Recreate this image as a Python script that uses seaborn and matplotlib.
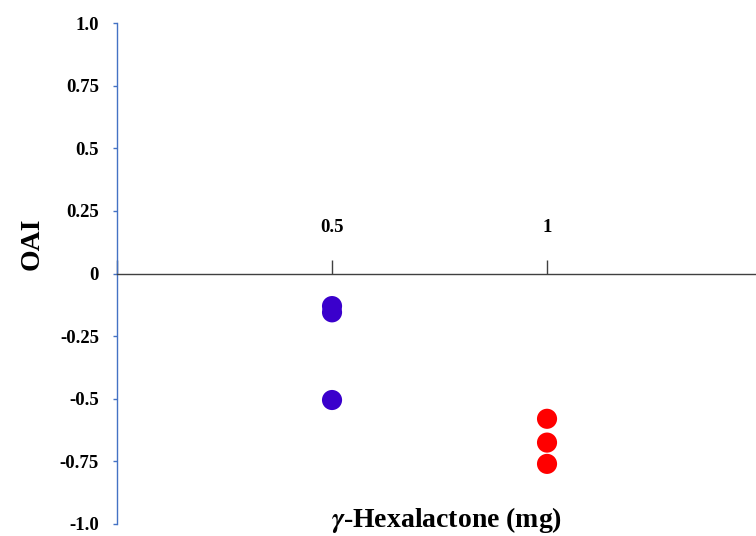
import matplotlib
matplotlib.use("Agg")
import matplotlib.pyplot as plt
import seaborn as sns
import pandas as pd

# values
dose_mg = [0.5, 0.5, 0.5, 1, 1, 1]
oai = [-0.13, -0.155, -0.505, -0.58, -0.675, -0.76]
group = ["0.5 mg", "0.5 mg", "0.5 mg", "1 mg", "1 mg", "1 mg"]

y_ticks = [-1.0, -0.75, -0.5, -0.25, 0, 0.25, 0.5, 0.75, 1.0]
y_tick_labels = ["-1.0", "-0.75", "-0.5", "-0.25", "0", "0.25", "0.5", "0.75", "1.0"]
x_ticks = [0, 0.5, 1]
x_tick_labels = ["", "0.5", "1"]

df = pd.DataFrame({"dose": dose_mg, "oai": oai, "group": group})

sns.set_style("white")
plt.rcParams["font.family"] = ["Liberation Serif", "DejaVu Serif"]
plt.rcParams["font.weight"] = "bold"
plt.rcParams["mathtext.fontset"] = "stix"
plt.rcParams["text.color"] = "black"
plt.rcParams["axes.labelcolor"] = "black"

fig = plt.figure(figsize=(7.56, 5.36), dpi=100)
ax = fig.add_axes([0.1548, 0.0224, 0.8452, 0.9346])

sns.scatterplot(data=df, x="dose", y="oai", hue="group",
                palette={"0.5 mg": "#3A00CC", "1 mg": "#FF0000"},
                s=210, linewidth=0, legend=False, ax=ax)

ax.set_xlim(0, 1.486)
ax.set_ylim(-1, 1)

# axes styling: blue left axis, grey horizontal axis through zero
for side in ["top", "right"]:
    ax.spines[side].set_visible(False)
ax.spines["left"].set_color("#4472C4")
ax.spines["left"].set_linewidth(1.0)
ax.spines["bottom"].set_position(("data", 0))
ax.spines["bottom"].set_color("#404040")
ax.spines["bottom"].set_linewidth(1.0)

ax.set_yticks(y_ticks)
ax.set_yticklabels(y_tick_labels)
ax.set_xticks(x_ticks)
ax.set_xticklabels(x_tick_labels)

ax.tick_params(axis="y", direction="out", length=3, width=1, color="#4472C4",
               labelcolor="black", pad=10, labelsize=13.5, left=True)
ax.tick_params(axis="x", direction="in", length=10, width=1, color="#404040",
               labelcolor="black", pad=-39, labelsize=13.5, bottom=True)
for lab in ax.get_xticklabels() + ax.get_yticklabels():
    lab.set_fontweight("bold")

ax.set_ylabel("OAI", fontsize=20, fontweight="bold")
ax.yaxis.set_label_coords(-0.113, 0.56)
ax.set_xlabel(r"$\mathit{\gamma}$-Hexalactone (mg)", fontsize=20, fontweight="bold")
ax.xaxis.set_label_coords(0.516, 0.037)

fig.savefig("out.png", dpi=100)
plt.close("all")
